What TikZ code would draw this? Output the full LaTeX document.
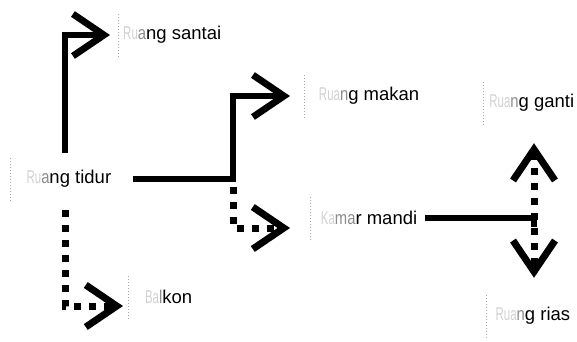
\documentclass[tikz,border=0pt]{standalone}
\usepackage{fontspec}
\setmainfont{Liberation Sans}
\usetikzlibrary{arrows.meta,calc}
\newcommand\lightpart[1]{\textcolor{black!18}{\scalebox{0.62}[1]{#1}}}
\newcommand\midpart[1]{\textcolor{black!45}{\scalebox{0.8}[1]{#1}}}
\newcommand\rlabel[2]{\makebox[#1][r]{#2}}
\begin{document}
\begin{tikzpicture}[x=1pt,y=-1pt,
  lbl/.style={anchor=west, minimum height=42pt, inner xsep=0pt, inner ysep=0pt,
    font=\fontsize{18.5}{20}\selectfont},
  boxedge/.style={draw=black!35, line width=0.6pt, dash pattern=on 1pt off 2pt},
  chev/.tip={Straight Barb[length=31pt,width=42pt]},
  solidc/.style={line width=6.8pt, -{chev}},
  dotc/.style={line width=7pt, dash pattern=on 7pt off 8pt}
]
\useasboundingbox (0,0) rectangle (577,341);

% labels
\node[lbl] (santai) at (118,35) {\rlabel{103pt}{\lightpart{Ru}\midpart{a}ng santai}};
\node[lbl] (tidur)  at (10,179) {\rlabel{101pt}{\lightpart{Ru}\midpart{a}ng tidur}};
\node[lbl] (makan)  at (304,96) {\rlabel{115pt}{\lightpart{Rua}\midpart{n}g makan}};
\node[lbl] (ganti)  at (483,103) {\rlabel{91pt}{\lightpart{Rua}\midpart{n}g ganti}};
\node[lbl] (mandi)  at (310,218) {\rlabel{107pt}{\lightpart{Ka}\midpart{ma}r mandi}};
\node[lbl] (rias)   at (486,316) {\rlabel{84pt}{\lightpart{Rua}\midpart{n}g rias}};
\node[lbl] (balkon) at (128,297) {\rlabel{64pt}{\lightpart{Ba}\midpart{l}kon}};

\foreach \n in {santai,tidur,makan,ganti,mandi,rias,balkon}
  \draw[boxedge] (\n.north west) -- (\n.south west);

% bend points
\coordinate (b1) at (65,35);
\coordinate (split) at (233,179);
\coordinate (turn) at (534,218);
\coordinate (turnend) at (534,227);

% connectors
\draw[solidc, shorten <=5pt, shorten >=8pt] (tidur.north -| b1) |- (santai.west);
\draw[solidc, shorten >=14pt] ([xshift=22pt]tidur.east) -- (split) |- (makan.west);
\draw[dotc, shorten <=8pt, shorten >=20pt, -{chev}] (split) |- ([yshift=-10pt]mandi.west);
\draw[dotc, shorten <=10pt, shorten >=5pt, -{chev}] (tidur.south -| b1) |- ([yshift=-9pt]balkon.west);
\draw[line width=6.8pt] ([xshift=8pt]mandi.east) -| (turnend);
\draw[dotc, shorten <=19pt, shorten >=17pt, {chev}-{chev}] (ganti.south -| turn) -- (rias.north -| turn);
\end{tikzpicture}
\end{document}
